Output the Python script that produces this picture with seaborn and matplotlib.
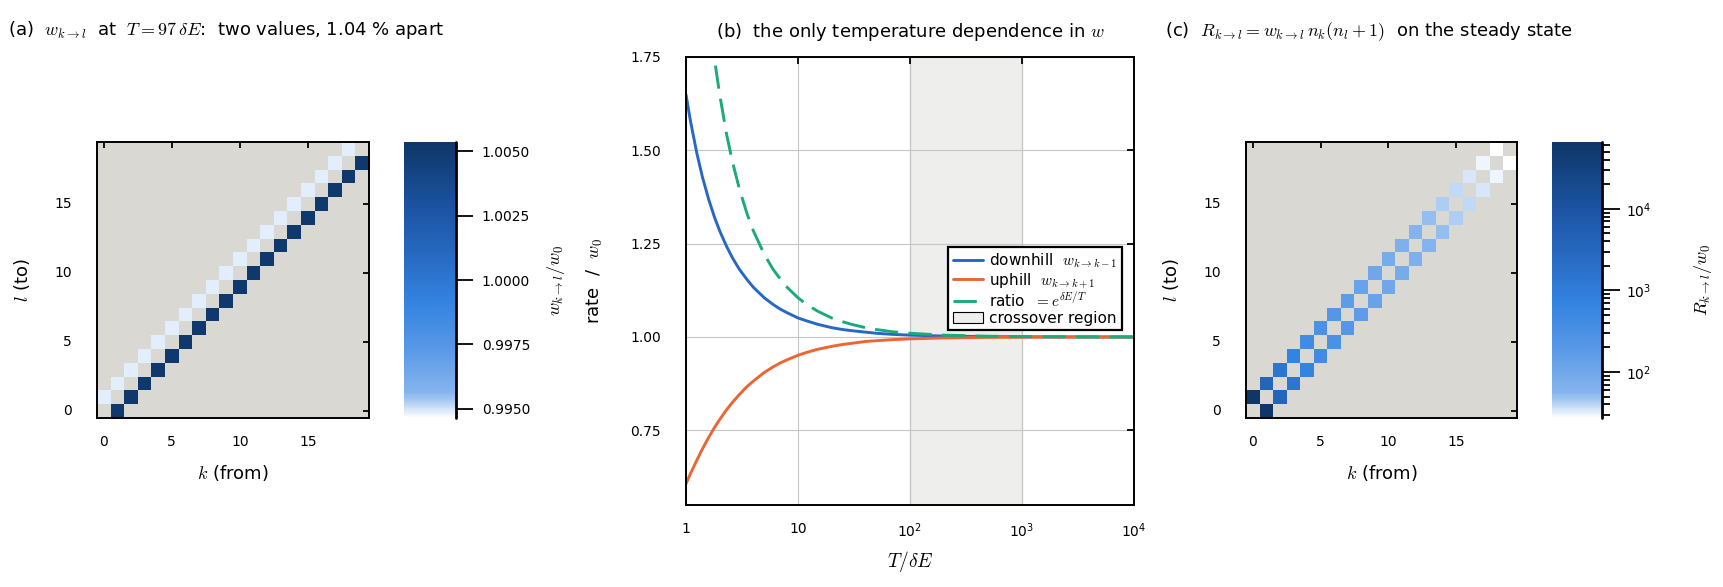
"""
Three panels: w_{k->l} matrix at T = 97 dE, rates versus temperature, and
steady-state flux R_{k->l}.
"""
import numpy as np
import matplotlib
matplotlib.use("Agg")
import matplotlib.pyplot as plt
import seaborn as sns
from matplotlib.colors import LinearSegmentedColormap, LogNorm
from matplotlib.patches import Patch
from matplotlib.lines import Line2D
from matplotlib.ticker import LogLocator, NullFormatter, NullLocator

# ---- data ----
N_LEVELS = 20
W_DOWN_T97 = 1.00517      # w_{k->k-1}/w0 at T = 97 dE
W_UP_T97 = 0.99486        # w_{k->k+1}/w0 at T = 97 dE
W_RANGE = (0.99465, 1.00535)

# steady-state flux of each neighbour pair (k-1 <-> k), k = 1..19
PAIR_RATE = [66000, 3870, 1400, 725, 443, 298, 215, 162, 127, 102,
             83, 70, 59, 51, 44, 38.5, 34, 30.3, 27.3]
R_RANGE = (27.3, 66000)

T_GRID = [1, 1.1, 1.25, 1.4, 1.6, 1.8, 2, 2.3, 2.6, 3, 3.5, 4, 5, 6, 7, 8,
          10, 12, 15, 20, 25, 30, 40, 50, 70, 100, 200, 500, 1000, 3000, 10000]
W_DOWN = [1.649, 1.576, 1.492, 1.429, 1.367, 1.320, 1.284, 1.243, 1.212,
          1.181, 1.154, 1.133, 1.105, 1.087, 1.074, 1.065, 1.051, 1.043,
          1.034, 1.025, 1.020, 1.017, 1.013, 1.010, 1.007, 1.005, 1.0025,
          1.001, 1.0005, 1.0002, 1.0]
W_UP = [0.607, 0.635, 0.670, 0.700, 0.732, 0.758, 0.779, 0.805, 0.825,
        0.846, 0.867, 0.882, 0.905, 0.920, 0.931, 0.939, 0.951, 0.959,
        0.967, 0.975, 0.980, 0.983, 0.988, 0.990, 0.993, 0.995, 0.9975,
        0.999, 0.9995, 0.9998, 1.0]
W_RATIO = [2.718, 2.483, 2.226, 2.042, 1.868, 1.742, 1.649, 1.544, 1.469,
           1.396, 1.331, 1.284, 1.221, 1.181, 1.154, 1.133, 1.105, 1.087,
           1.069, 1.051, 1.041, 1.034, 1.025, 1.020, 1.014, 1.010, 1.005,
           1.002, 1.001, 1.0003, 1.0001]
CROSSOVER = (100, 1000)

BLUE = "#2767c5"
ORANGE = "#ec6633"
GREEN = "#1aab78"
EMPTY = "#d9d8d3"

CMAP = LinearSegmentedColormap.from_list("wblue", [
    (0.00, "#ffffff"), (0.04, "#c4dcf6"), (0.09, "#86b5ee"),
    (0.25, "#5898e6"), (0.42, "#3383e0"), (0.55, "#2a6fc8"),
    (0.75, "#1c55a5"), (1.00, "#0e3668")])

W, H = 1723, 587


def px_rect(x0, x1, y0, y1):
    """Figure-fraction rectangle from pixel edges (y measured from the top)."""
    return [x0 / W, 1 - y1 / H, (x1 - x0) / W, (y1 - y0) / H]


def sup_label(power):
    return r"$\mathregular{10^{%d}}$" % power


def pair_matrix(down, up):
    """Rows are l (to), columns are k (from); empty cells stay NaN."""
    m = np.full((N_LEVELS, N_LEVELS), np.nan)
    for k in range(1, N_LEVELS):
        m[k - 1, k] = down[k - 1]
        m[k, k - 1] = up[k - 1]
    return m


def style_heatmap(ax):
    ax.invert_yaxis()
    ax.set_facecolor(EMPTY)
    ticks = [0, 5, 10, 15]
    ax.set_xticks([t + 0.5 for t in ticks])
    ax.set_xticklabels([str(t) for t in ticks], rotation=0)
    ax.set_yticks([t + 0.5 for t in ticks])
    ax.set_yticklabels([str(t) for t in ticks], rotation=0)
    for sp in ax.spines.values():
        sp.set_visible(True)
        sp.set_color("black")
        sp.set_linewidth(1.4)
    ax.tick_params(axis="both", direction="in", top=True, right=True,
                   length=4, width=1.3, labelsize=10)
    ax.tick_params(axis="x", pad=12)
    ax.tick_params(axis="y", pad=18)
    ax.set_xlabel("$k$ (from)", fontsize=13, labelpad=10)
    ax.set_ylabel("$l$ (to)", fontsize=13, labelpad=16)


def style_cbar(cax):
    cax.plot([1, 1], [0, 1], transform=cax.transAxes, color="black",
             lw=2, clip_on=False)


def main():
    sns.set_style("white")
    plt.rcParams["font.family"] = ["DejaVu Sans"]
    plt.rcParams["mathtext.fontset"] = "cm"
    for key in ("text.color", "axes.labelcolor", "xtick.color", "ytick.color"):
        plt.rcParams[key] = "black"

    fig = plt.figure(figsize=(W / 100, H / 100), dpi=100)

    # ---- (a) ----
    ax_a = fig.add_axes(px_rect(97, 369, 142, 418))
    cax_a = fig.add_axes(px_rect(404, 456, 142, 418))
    mat_a = pair_matrix([W_DOWN_T97] * (N_LEVELS - 1), [W_UP_T97] * (N_LEVELS - 1))
    sns.heatmap(mat_a, ax=ax_a, cmap=CMAP, vmin=W_RANGE[0], vmax=W_RANGE[1],
                cbar_ax=cax_a)
    style_heatmap(ax_a)
    cb_a = ax_a.collections[0].colorbar
    cb_a.outline.set_visible(False)
    cb_a.set_ticks([0.995, 0.9975, 1.0, 1.0025, 1.005])
    cb_a.ax.set_yticklabels(["0.9950", "0.9975", "1.0000", "1.0025", "1.0050"])
    cax_a.tick_params(direction="out", length=12.5, width=1.3, pad=6, labelsize=10)
    style_cbar(cax_a)
    fig.text(556 / W, 1 - 280 / H, r"$w_{k\to l}/w_0$", rotation=90,
             ha="center", va="center", fontsize=13)

    # ---- (b) ----
    ax_b = fig.add_axes(px_rect(686, 1134, 57, 505))
    ax_b.axvspan(*CROSSOVER, facecolor="#eeeeec", edgecolor="#9a9a9a",
                 lw=0.8, zorder=0)
    sns.lineplot(x=T_GRID, y=W_DOWN, ax=ax_b, color=BLUE, lw=2.1, legend=False)
    sns.lineplot(x=T_GRID, y=W_UP, ax=ax_b, color=ORANGE, lw=2.1, legend=False)
    sns.lineplot(x=T_GRID, y=W_RATIO, ax=ax_b, color=GREEN, lw=2.1, legend=False)
    ax_b.lines[-1].set_dashes((8, 3.5))
    ax_b.set_xscale("log")
    ax_b.set_xlim(1, 1e4)
    ax_b.set_ylim(0.55, 1.75)
    ax_b.set_xticks([1, 10, 100, 1000, 10000])
    ax_b.set_xticklabels(["1", "10", sup_label(2), sup_label(3), sup_label(4)])
    ax_b.xaxis.set_minor_locator(NullLocator())
    ax_b.set_yticks([0.75, 1.0, 1.25, 1.5, 1.75])
    ax_b.set_yticklabels(["0.75", "1.00", "1.25", "1.50", "1.75"])
    ax_b.grid(True, color="#c6c6c6", lw=0.8)
    ax_b.set_axisbelow(True)
    for sp in ax_b.spines.values():
        sp.set_visible(True)
        sp.set_color("black")
        sp.set_linewidth(1.4)
    ax_b.tick_params(axis="both", direction="in", top=True, right=True,
                     length=5, width=1.3, labelsize=10)
    ax_b.tick_params(axis="x", pad=12)
    ax_b.tick_params(axis="y", pad=18)
    ax_b.set_xlabel(r"$T/\delta E$", fontsize=14, labelpad=6)
    ax_b.set_ylabel(r"rate  /  $w_0$", fontsize=13, labelpad=18)

    handles = [
        Line2D([], [], color=BLUE, lw=2.1, label=r"downhill  $w_{k\to k-1}$"),
        Line2D([], [], color=ORANGE, lw=2.1, label=r"uphill  $w_{k\to k+1}$"),
        Line2D([], [], color=GREEN, lw=2.1, dashes=(8, 3.5),
               label=r"ratio  $= e^{\delta E/T}$"),
        Patch(facecolor="#eeeeec", edgecolor="black", lw=0.8,
              label="crossover region"),
    ]
    leg = ax_b.legend(handles=handles, loc="upper left",
                      bbox_to_anchor=(0.585, 0.576), fontsize=11,
                      frameon=True, fancybox=False, framealpha=1,
                      edgecolor="black", borderpad=0.3, labelspacing=0.05,
                      handlelength=2.0, handletextpad=0.35, borderaxespad=0)
    leg.get_frame().set_linewidth(1.6)

    # ---- (c) ----
    ax_c = fig.add_axes(px_rect(1246, 1517, 142, 418))
    cax_c = fig.add_axes(px_rect(1552, 1602, 142, 418))
    mat_c = pair_matrix(PAIR_RATE, PAIR_RATE)
    sns.heatmap(mat_c, ax=ax_c, cmap=CMAP, norm=LogNorm(*R_RANGE),
                cbar_ax=cax_c)
    style_heatmap(ax_c)
    cb_c = ax_c.collections[0].colorbar
    cb_c.outline.set_visible(False)
    cb_c.set_ticks([1e2, 1e3, 1e4])
    cb_c.ax.set_yticklabels([sup_label(2), sup_label(3), sup_label(4)])
    cax_c.yaxis.set_minor_locator(LogLocator(subs=np.arange(2, 10)))
    cax_c.yaxis.set_minor_formatter(NullFormatter())
    cax_c.tick_params(which="major", direction="out", length=13, width=1.3,
                      pad=4, labelsize=10)
    cax_c.tick_params(which="minor", direction="out", length=6, width=1.3)
    style_cbar(cax_c)
    fig.text(1703 / W, 1 - 280 / H, r"$R_{k\to l}/w_0$", rotation=90,
             ha="center", va="center", fontsize=13)

    # ---- titles ----
    fig.text(8 / W, 1 - 30 / H,
             r"(a)  $w_{k\to l}$  at  $T=97\,\delta E$:  two values, 1.04 % apart",
             ha="left", va="center", fontsize=13)
    fig.text(910 / W, 1 - 32 / H,
             r"(b)  the only temperature dependence in $w$",
             ha="center", va="center", fontsize=13)
    fig.text(1165 / W, 1 - 32 / H,
             r"(c)  $R_{k\to l}=w_{k\to l}\,n_k(n_l+1)$  on the steady state",
             ha="left", va="center", fontsize=13)

    fig.savefig("out.png", dpi=100)


if __name__ == "__main__":
    main()
